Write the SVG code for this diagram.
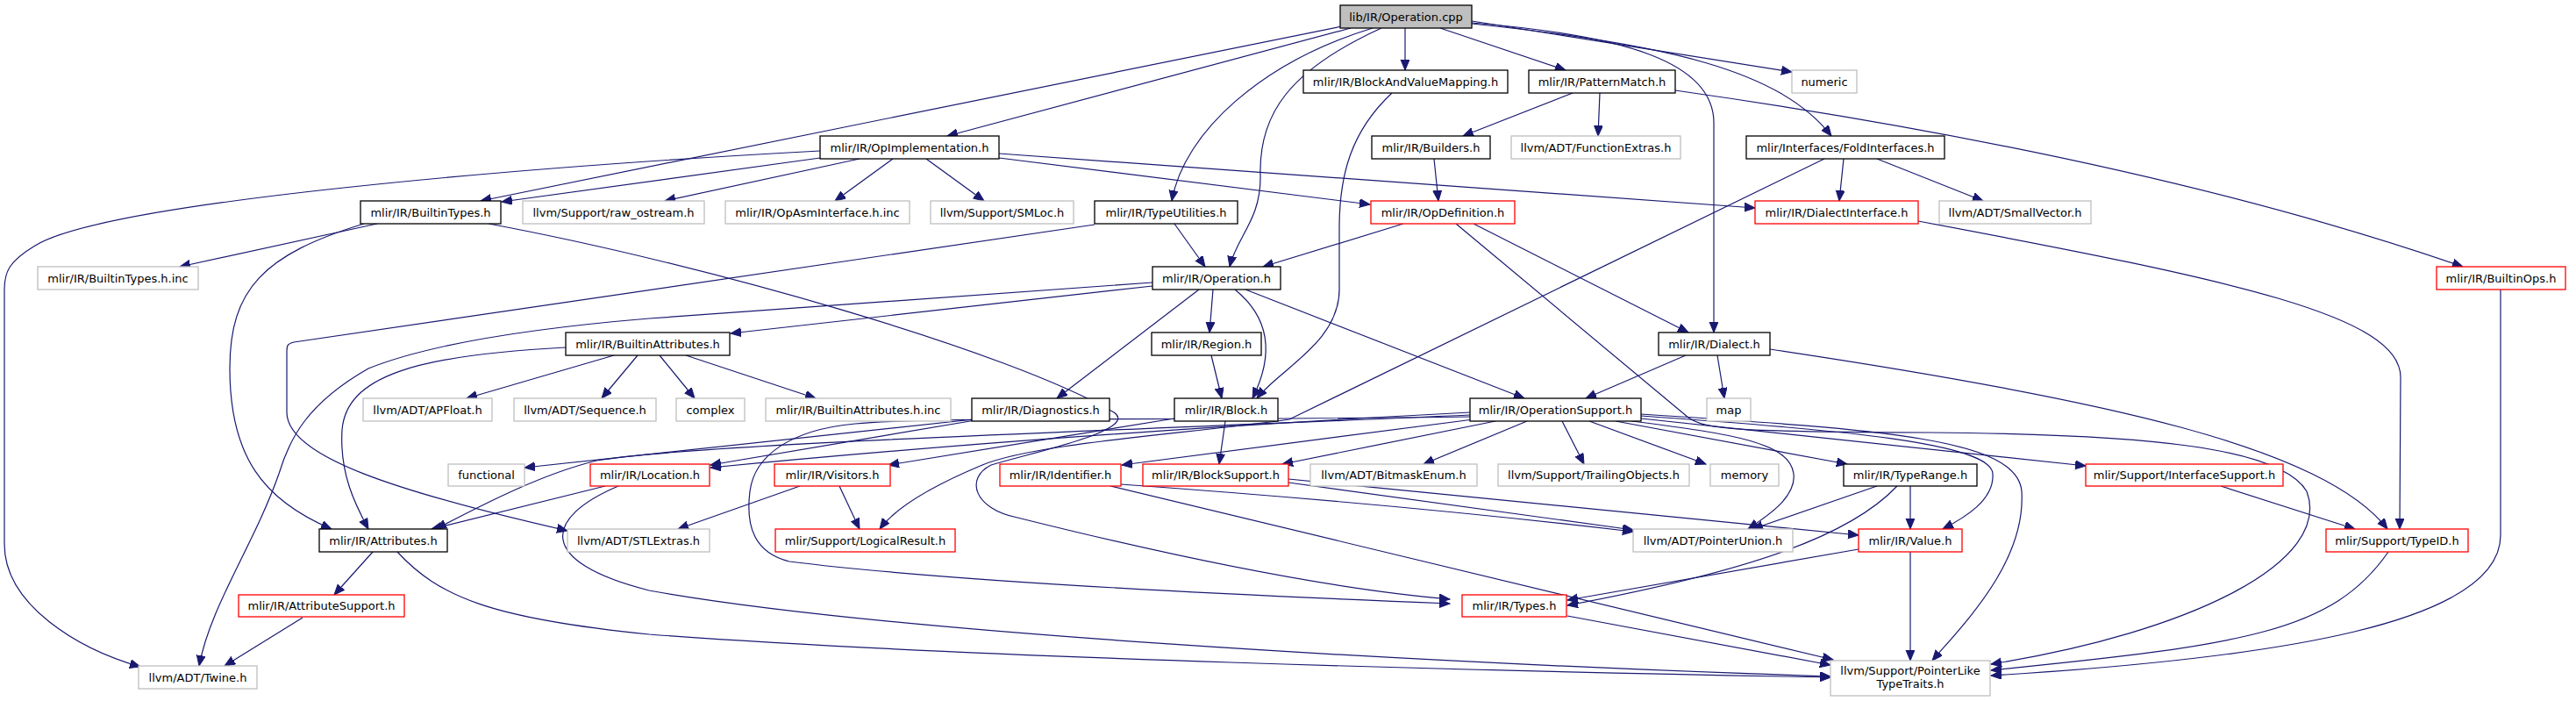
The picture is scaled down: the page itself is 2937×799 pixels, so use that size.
<svg xmlns="http://www.w3.org/2000/svg" width="2937" height="799" viewBox="0 0 2937 799">
<defs>
<marker id="ah" markerUnits="userSpaceOnUse" markerWidth="13" markerHeight="11" refX="12" refY="5" orient="auto">
<path d="M0,0 L12,5 L0,10 z" fill="#191970" stroke="#191970" stroke-width="1"/>
</marker>
</defs>
<style>
.e path{fill:none;stroke:#191970;stroke-width:1.2;marker-end:url(#ah)}
rect{stroke-width:1.3}
.k rect{fill:#fff;stroke:#000}
.r rect{fill:#fff;stroke:#ff0000}
.g rect{fill:#fff;stroke:#bfbfbf}
.root rect{fill:#bfbfbf;stroke:#000}
text{font-family:"DejaVu Sans","Liberation Sans",sans-serif;font-size:13px;text-anchor:middle;fill:#000}
</style>
<rect x="0" y="0" width="2937" height="799" fill="#fff"/>
<g class="e" id="edges">
<path d="M1530,30 L548,229"/>
<path d="M935,180 L572,230"/>
<path d="M935,172 C600,190 120,230 40,280 C10,298 5,310 5,330 L5,620 C5,690 90,740 160,760"/>
<path d="M1540,32 L1080,155"/>
<path d="M1565,32 C1440,70 1350,150 1336,229"/>
<path d="M1575,32 C1470,80 1435,130 1437,200 C1438,250 1410,270 1402,304"/>
<path d="M1602,32 L1602,80"/>
<path d="M1642,32 L1785,80"/>
<path d="M1678,24 L2043,82"/>
<path d="M1678,27 C1900,50 2030,80 2088,155"/>
<path d="M1678,26 C1850,40 1954,70 1954,140 L1954,379"/>
<path d="M1793,106 L1668,155"/>
<path d="M1824,106 L1822,155"/>
<path d="M1910,103 Q2450,180 2808,304"/>
<path d="M1635,181 L1640,229"/>
<path d="M980,181 L758,229"/>
<path d="M1018,181 L952,229"/>
<path d="M1056,181 L1122,229"/>
<path d="M1139,175 L2001,237"/>
<path d="M1139,180 L1562,233"/>
<path d="M2102,181 L2097,229"/>
<path d="M2140,181 L2261,229"/>
<path d="M2080,181 L1470,478 C1350,495 1180,505 1120,530 C1060,555 1020,580 1003,603"/>
<path d="M2187,252 C2550,320 2737,360 2737,430 L2736,603"/>
<path d="M2018,398 C2400,455 2650,510 2722,603"/>
<path d="M2532,554 L2685,603"/>
<path d="M2723,629 C2660,720 2560,735 2270,764"/>
<path d="M2851,330 L2851,610 C2851,710 2600,750 2270,770"/>
<path d="M1660,255 L1925,476 C1945,490 1980,492 2200,493 C2450,495 2600,510 2630,560 C2660,640 2500,720 2270,757"/>
<path d="M1600,255 L1440,304"/>
<path d="M1680,255 L1925,379"/>
<path d="M1339,255 L1374,304"/>
<path d="M1248,256 L335,390 C327,392 327,395 327,400 L327,470 C327,520 450,560 647,605"/>
<path d="M1314,326 L833,380"/>
<path d="M1314,322 L740,363 C560,378 470,400 420,420 C350,460 330,500 318,540 C290,620 240,690 227,759"/>
<path d="M1367,330 L1205,454"/>
<path d="M1383,330 L1379,379"/>
<path d="M1408,330 C1445,360 1455,400 1428,454"/>
<path d="M1420,330 L1738,454"/>
<path d="M1381,405 L1393,454"/>
<path d="M1587,106 C1540,150 1527,200 1527,260 L1527,330 C1527,390 1460,420 1433,454"/>
<path d="M1397,480 L1390,529"/>
<path d="M1339,477 L1013,530"/>
<path d="M1676,470 Q1200,495 810,533"/>
<path d="M1676,473 C1300,490 800,505 680,525 C620,540 560,570 497,603"/>
<path d="M1680,478 L1279,530"/>
<path d="M1705,480 L1462,529"/>
<path d="M1676,475 C1300,480 1050,475 975,483 C900,490 860,520 855,560 C850,600 860,630 900,640 C1100,665 1450,680 1653,688"/>
<path d="M557,255 C800,300 1150,400 1270,470 C1300,490 1180,515 1130,530 C1100,545 1110,580 1160,590 C1300,625 1500,670 1653,683"/>
<path d="M1110,478 L598,533"/>
<path d="M1112,479 L810,530"/>
<path d="M690,554 L492,603"/>
<path d="M705,554 C620,590 610,640 740,673 C1000,720 1600,755 2087,771"/>
<path d="M425,629 L381,678"/>
<path d="M453,629 C500,680 560,705 740,723 C1100,750 1700,765 2087,772"/>
<path d="M345,704 L256,759"/>
<path d="M912,554 L773,603"/>
<path d="M957,554 L980,603"/>
<path d="M1278,552 Q1600,575 1862,606"/>
<path d="M1266,554 L2090,752"/>
<path d="M1469,550 L1862,604"/>
<path d="M1469,546 L2119,610"/>
<path d="M1741,480 L1623,529"/>
<path d="M1781,480 L1806,529"/>
<path d="M1812,480 L1945,529"/>
<path d="M1842,480 L2106,529"/>
<path d="M1871,477 L2378,531"/>
<path d="M1871,474 C2100,490 2270,505 2272,540 C2274,570 2240,590 2215,603"/>
<path d="M1871,472 C2150,490 2300,500 2305,560 C2310,640 2240,710 2203,753"/>
<path d="M1860,480 C1980,495 2040,505 2045,540 C2048,565 2020,585 1993,603"/>
<path d="M2140,554 L1998,603"/>
<path d="M2178,554 L2178,603"/>
<path d="M2163,554 C2110,610 2000,650 1787,690"/>
<path d="M2119,626 L1787,684"/>
<path d="M2178,629 L2178,753"/>
<path d="M1787,702 L2087,758"/>
<path d="M1922,405 L1808,454"/>
<path d="M1958,405 L1966,454"/>
<path d="M430,255 L205,304"/>
<path d="M415,255 C300,290 262,330 262,420 C262,520 300,570 378,603"/>
<path d="M700,405 L532,454"/>
<path d="M727,405 L686,454"/>
<path d="M752,405 L792,454"/>
<path d="M782,405 L930,454"/>
<path d="M645,396 C470,405 395,430 390,490 C387,540 405,575 420,603"/>
</g>
<g id="n1" class="root"><rect x="1528" y="6" width="150" height="26"/><text x="1603" y="24">lib/IR/Operation.cpp</text></g>
<g id="n2" class="k"><rect x="1486" y="80" width="233" height="26"/><text x="1602.5" y="98">mlir/IR/BlockAndValueMapping.h</text></g>
<g id="n3" class="k"><rect x="1743" y="80" width="167" height="26"/><text x="1826.5" y="98">mlir/IR/PatternMatch.h</text></g>
<g id="n4" class="g"><rect x="2043" y="80" width="74" height="26"/><text x="2080" y="98">numeric</text></g>
<g id="n5" class="k"><rect x="1564" y="155" width="135" height="26"/><text x="1631.5" y="173">mlir/IR/Builders.h</text></g>
<g id="n6" class="g"><rect x="1723" y="155" width="193" height="26"/><text x="1819.5" y="173">llvm/ADT/FunctionExtras.h</text></g>
<g id="n7" class="k"><rect x="1991" y="155" width="226" height="26"/><text x="2104" y="173">mlir/Interfaces/FoldInterfaces.h</text></g>
<g id="n8" class="r"><rect x="1563" y="229" width="164" height="26"/><text x="1645" y="247">mlir/IR/OpDefinition.h</text></g>
<g id="n9" class="r"><rect x="2001" y="229" width="186" height="26"/><text x="2094" y="247">mlir/IR/DialectInterface.h</text></g>
<g id="n10" class="g"><rect x="2211" y="229" width="173" height="26"/><text x="2297.5" y="247">llvm/ADT/SmallVector.h</text></g>
<g id="n11" class="r"><rect x="2778" y="304" width="147" height="26"/><text x="2851.5" y="322">mlir/IR/BuiltinOps.h</text></g>
<g id="n12" class="k"><rect x="935" y="155" width="204" height="26"/><text x="1037" y="173">mlir/IR/OpImplementation.h</text></g>
<g id="n13" class="g"><rect x="596" y="229" width="207" height="26"/><text x="699.5" y="247">llvm/Support/raw_ostream.h</text></g>
<g id="n14" class="g"><rect x="827" y="229" width="210" height="26"/><text x="932" y="247">mlir/IR/OpAsmInterface.h.inc</text></g>
<g id="n15" class="g"><rect x="1061" y="229" width="163" height="26"/><text x="1142.5" y="247">llvm/Support/SMLoc.h</text></g>
<g id="n16" class="k"><rect x="1248" y="229" width="163" height="26"/><text x="1329.5" y="247">mlir/IR/TypeUtilities.h</text></g>
<g id="n17" class="k"><rect x="411" y="229" width="160" height="26"/><text x="491" y="247">mlir/IR/BuiltinTypes.h</text></g>
<g id="n18" class="g"><rect x="43" y="304" width="183" height="26"/><text x="134.5" y="322">mlir/IR/BuiltinTypes.h.inc</text></g>
<g id="n19" class="k"><rect x="645" y="379" width="187" height="26"/><text x="738.5" y="397">mlir/IR/BuiltinAttributes.h</text></g>
<g id="n20" class="g"><rect x="414" y="454" width="147" height="26"/><text x="487.5" y="472">llvm/ADT/APFloat.h</text></g>
<g id="n21" class="g"><rect x="586" y="454" width="162" height="26"/><text x="667" y="472">llvm/ADT/Sequence.h</text></g>
<g id="n22" class="g"><rect x="771" y="454" width="78" height="26"/><text x="810" y="472">complex</text></g>
<g id="n23" class="g"><rect x="873" y="454" width="211" height="26"/><text x="978.5" y="472">mlir/IR/BuiltinAttributes.h.inc</text></g>
<g id="n24" class="k"><rect x="1108" y="454" width="157" height="26"/><text x="1186.5" y="472">mlir/IR/Diagnostics.h</text></g>
<g id="n25" class="k"><rect x="1314" y="304" width="146" height="26"/><text x="1387" y="322">mlir/IR/Operation.h</text></g>
<g id="n26" class="k"><rect x="1313" y="379" width="125" height="26"/><text x="1375.5" y="397">mlir/IR/Region.h</text></g>
<g id="n27" class="k"><rect x="1339" y="454" width="118" height="26"/><text x="1398" y="472">mlir/IR/Block.h</text></g>
<g id="n28" class="k"><rect x="1891" y="379" width="127" height="26"/><text x="1954.5" y="397">mlir/IR/Dialect.h</text></g>
<g id="n29" class="k"><rect x="1676" y="454" width="195" height="26"/><text x="1773.5" y="472">mlir/IR/OperationSupport.h</text></g>
<g id="n30" class="g"><rect x="1946" y="454" width="50" height="26"/><text x="1971" y="472">map</text></g>
<g id="n31" class="g"><rect x="511" y="529" width="87" height="25"/><text x="554.5" y="546">functional</text></g>
<g id="n32" class="r"><rect x="673" y="529" width="136" height="25"/><text x="741" y="546">mlir/IR/Location.h</text></g>
<g id="n33" class="k"><rect x="364" y="603" width="146" height="26"/><text x="437" y="621">mlir/IR/Attributes.h</text></g>
<g id="n34" class="g"><rect x="647" y="603" width="162" height="26"/><text x="728" y="621">llvm/ADT/STLExtras.h</text></g>
<g id="n35" class="r"><rect x="272" y="678" width="189" height="25"/><text x="366.5" y="695">mlir/IR/AttributeSupport.h</text></g>
<g id="n36" class="g"><rect x="158" y="759" width="135" height="26"/><text x="225.5" y="777">llvm/ADT/Twine.h</text></g>
<g id="n37" class="r"><rect x="883" y="529" width="132" height="25"/><text x="949" y="546">mlir/IR/Visitors.h</text></g>
<g id="n38" class="r"><rect x="884" y="603" width="205" height="26"/><text x="986.5" y="621">mlir/Support/LogicalResult.h</text></g>
<g id="n39" class="r"><rect x="1140" y="529" width="138" height="25"/><text x="1209" y="546">mlir/IR/Identifier.h</text></g>
<g id="n40" class="r"><rect x="1303" y="529" width="166" height="25"/><text x="1386" y="546">mlir/IR/BlockSupport.h</text></g>
<g id="n41" class="g"><rect x="1494" y="529" width="190" height="25"/><text x="1589" y="546">llvm/ADT/BitmaskEnum.h</text></g>
<g id="n42" class="g"><rect x="1708" y="529" width="218" height="25"/><text x="1817" y="546">llvm/Support/TrailingObjects.h</text></g>
<g id="n43" class="g"><rect x="1950" y="529" width="78" height="25"/><text x="1989" y="546">memory</text></g>
<g id="n44" class="k"><rect x="2102" y="529" width="152" height="25"/><text x="2178" y="546">mlir/IR/TypeRange.h</text></g>
<g id="n45" class="g"><rect x="1862" y="603" width="182" height="26"/><text x="1953" y="621">llvm/ADT/PointerUnion.h</text></g>
<g id="n46" class="r"><rect x="2119" y="603" width="118" height="26"/><text x="2178" y="621">mlir/IR/Value.h</text></g>
<g id="n47" class="r"><rect x="1667" y="678" width="119" height="25"/><text x="1726.5" y="695">mlir/IR/Types.h</text></g>
<g id="n48" class="g"><rect x="2087" y="753" width="182" height="40"/><text x="2178" y="769">llvm/Support/PointerLike</text><text x="2178" y="784">TypeTraits.h</text></g>
<g id="n49" class="r"><rect x="2378" y="529" width="225" height="25"/><text x="2490.5" y="546">mlir/Support/InterfaceSupport.h</text></g>
<g id="n50" class="r"><rect x="2652" y="603" width="162" height="26"/><text x="2733" y="621">mlir/Support/TypeID.h</text></g>
</svg>
